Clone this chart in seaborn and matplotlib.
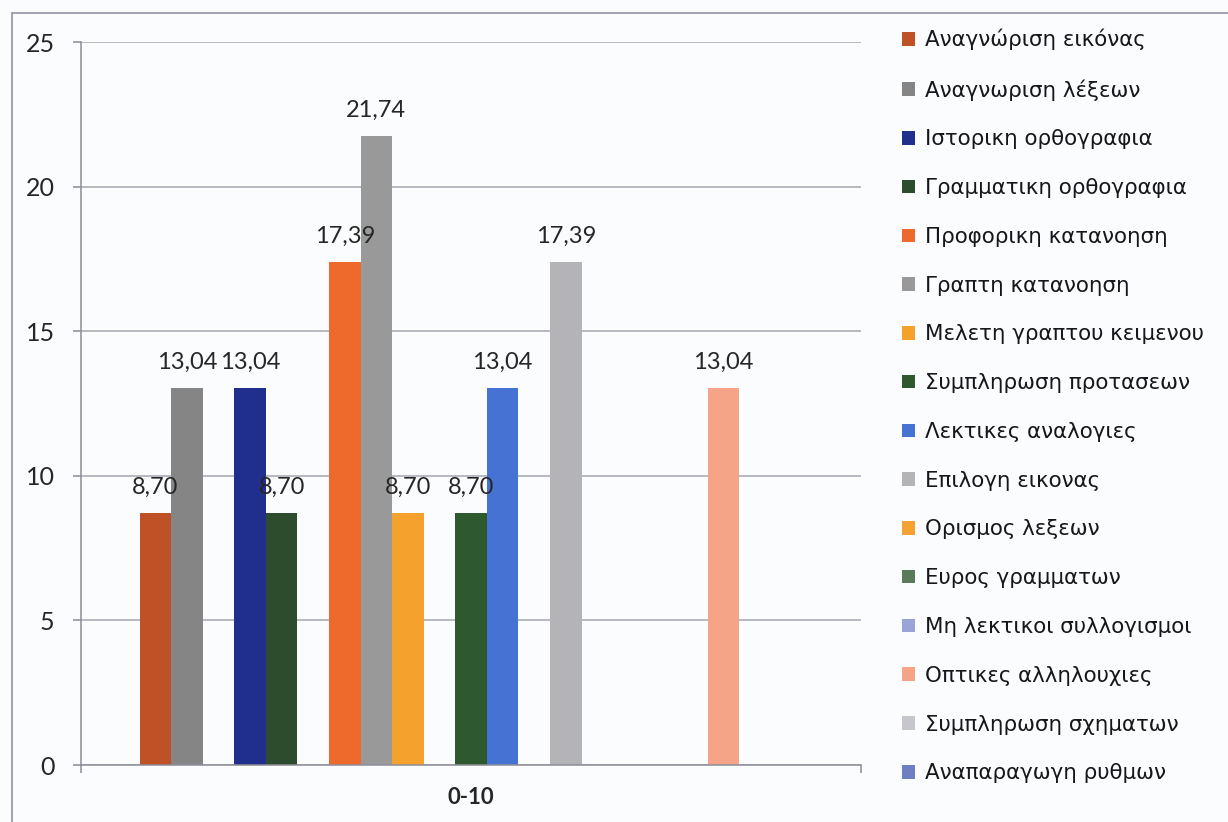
import matplotlib
matplotlib.use("Agg")
import matplotlib.pyplot as plt
from matplotlib.patches import Patch
from matplotlib.lines import Line2D
import pandas as pd
import seaborn as sns

# Age band shown on the category axis
age_group = "0-10"

# Subtests, in series order; consecutive blocks are separated by an empty slot
reading = ["Αναγνώριση εικόνας", "Αναγνωριση λέξεων"]
spelling = ["Ιστορικη ορθογραφια", "Γραμματικη ορθογραφια"]
comprehension = ["Προφορικη κατανοηση", "Γραπτη κατανοηση", "Μελετη γραπτου κειμενου"]
verbal = ["Συμπληρωση προτασεων", "Λεκτικες αναλογιες"]
vocabulary = ["Επιλογη εικονας", "Ορισμος λεξεων", "Ευρος γραμματων"]
nonverbal = ["Μη λεκτικοι συλλογισμοι", "Οπτικες αλληλουχιες",
             "Συμπληρωση σχηματων", "Αναπαραγωγη ρυθμων"]

# Percentages per subtest (None = no value recorded)
reading_pct = [8.70, 13.04]
spelling_pct = [13.04, 8.70]
comprehension_pct = [17.39, 21.74, 8.70]
verbal_pct = [8.70, 13.04]
vocabulary_pct = [17.39, None, None]
nonverbal_pct = [None, 13.04, None, None]

# Series colours
reading_col = ["#BF5126", "#858585"]
spelling_col = ["#202F8C", "#2D4C2E"]
comprehension_col = ["#EE6A2C", "#999999", "#F4A12E"]
verbal_col = ["#2E592F", "#4673D3"]
vocabulary_col = ["#B3B3B8", "#F4A234", "#5B7A5B"]
nonverbal_col = ["#9AA4D6", "#F6A488", "#C6C6CC", "#6E7FC2"]

blocks = [
    (reading, reading_pct, reading_col),
    (spelling, spelling_pct, spelling_col),
    (comprehension, comprehension_pct, comprehension_col),
    (verbal, verbal_pct, verbal_col),
    (vocabulary, vocabulary_pct, vocabulary_col),
    (nonverbal, nonverbal_pct, nonverbal_col),
]

rows, hue_order, palette, legend_items = [], [], {}, []
for i, (names, vals, cols) in enumerate(blocks):
    if i > 0:
        sep = f"_sep{i}"
        hue_order.append(sep)
        palette[sep] = "white"
    for n, v, c in zip(names, vals, cols):
        hue_order.append(n)
        palette[n] = c
        legend_items.append((n, c))
        if v is not None:
            rows.append({"group": age_group, "test": n, "pct": v})
df = pd.DataFrame(rows)

sns.set_theme(style="white")
plt.rcParams["font.family"] = ["Lato", "DejaVu Sans"]

bg = "#FBFCFD"
fig = plt.figure(figsize=(12.28, 8.22), dpi=100, facecolor=bg)
ax = fig.add_axes([0.0660, 0.0693, 0.6352, 0.8796], facecolor=bg)

sns.barplot(data=df, x="group", y="pct", hue="test", hue_order=hue_order,
            palette=palette, width=0.85, gap=0, errorbar=None,
            saturation=1, legend=False, linewidth=0, edgecolor="none", ax=ax)

for c in ax.containers:
    ax.bar_label(c, labels=[f"{b.get_height():.2f}".replace(".", ",") for b in c],
                 padding=11, fontsize=17, color="#262626",
                 family=["Lato", "DejaVu Sans"])

ax.set_xlim(-0.5, 0.5)
ax.set_ylim(0, 25)
ax.set_yticks([0, 5, 10, 15, 20, 25])
ax.yaxis.grid(True, color="#A6A7B0", lw=1.1)
ax.set_axisbelow(True)
ax.set_xlabel("")
ax.set_ylabel("")

for s in ["top", "right"]:
    ax.spines[s].set_visible(False)
for s in ["left", "bottom"]:
    ax.spines[s].set_color("#8C8D98")
    ax.spines[s].set_linewidth(1.1)

ax.tick_params(axis="y", length=6, width=1.1, color="#8C8D98", pad=13,
               labelsize=18, labelcolor="#262626", left=True)
ax.tick_params(axis="x", which="major", length=0, pad=16, labelsize=16,
               labelcolor="#262626")
for t in ax.get_xticklabels():
    t.set_fontweight("bold")
ax.set_xticks([-0.5, 0.5], minor=True)
ax.tick_params(axis="x", which="minor", length=6, width=1.1, color="#8C8D98",
               bottom=True)

handles = [Patch(facecolor=c, edgecolor="none", label=n) for n, c in legend_items]
leg = fig.legend(handles=handles, loc="upper left",
                 bbox_to_anchor=(0.7345, 0.965), frameon=False,
                 prop={"family": ["DejaVu Sans"], "size": 15.4},
                 handlelength=0.6, handleheight=0.6, handletextpad=0.5,
                 labelspacing=1.345, borderpad=0, borderaxespad=0)
for t in leg.get_texts():
    t.set_color("#16161C")

# Chart frame (left and top edges)
fig.add_artist(Line2D([0.0098, 0.0098], [0.0, 0.984], transform=fig.transFigure,
                      color="#9A9BA8", lw=1.3))
fig.add_artist(Line2D([0.0098, 1.0], [0.984, 0.984], transform=fig.transFigure,
                      color="#9A9BA8", lw=1.3))

fig.savefig("out.png", dpi=100, facecolor=bg)
